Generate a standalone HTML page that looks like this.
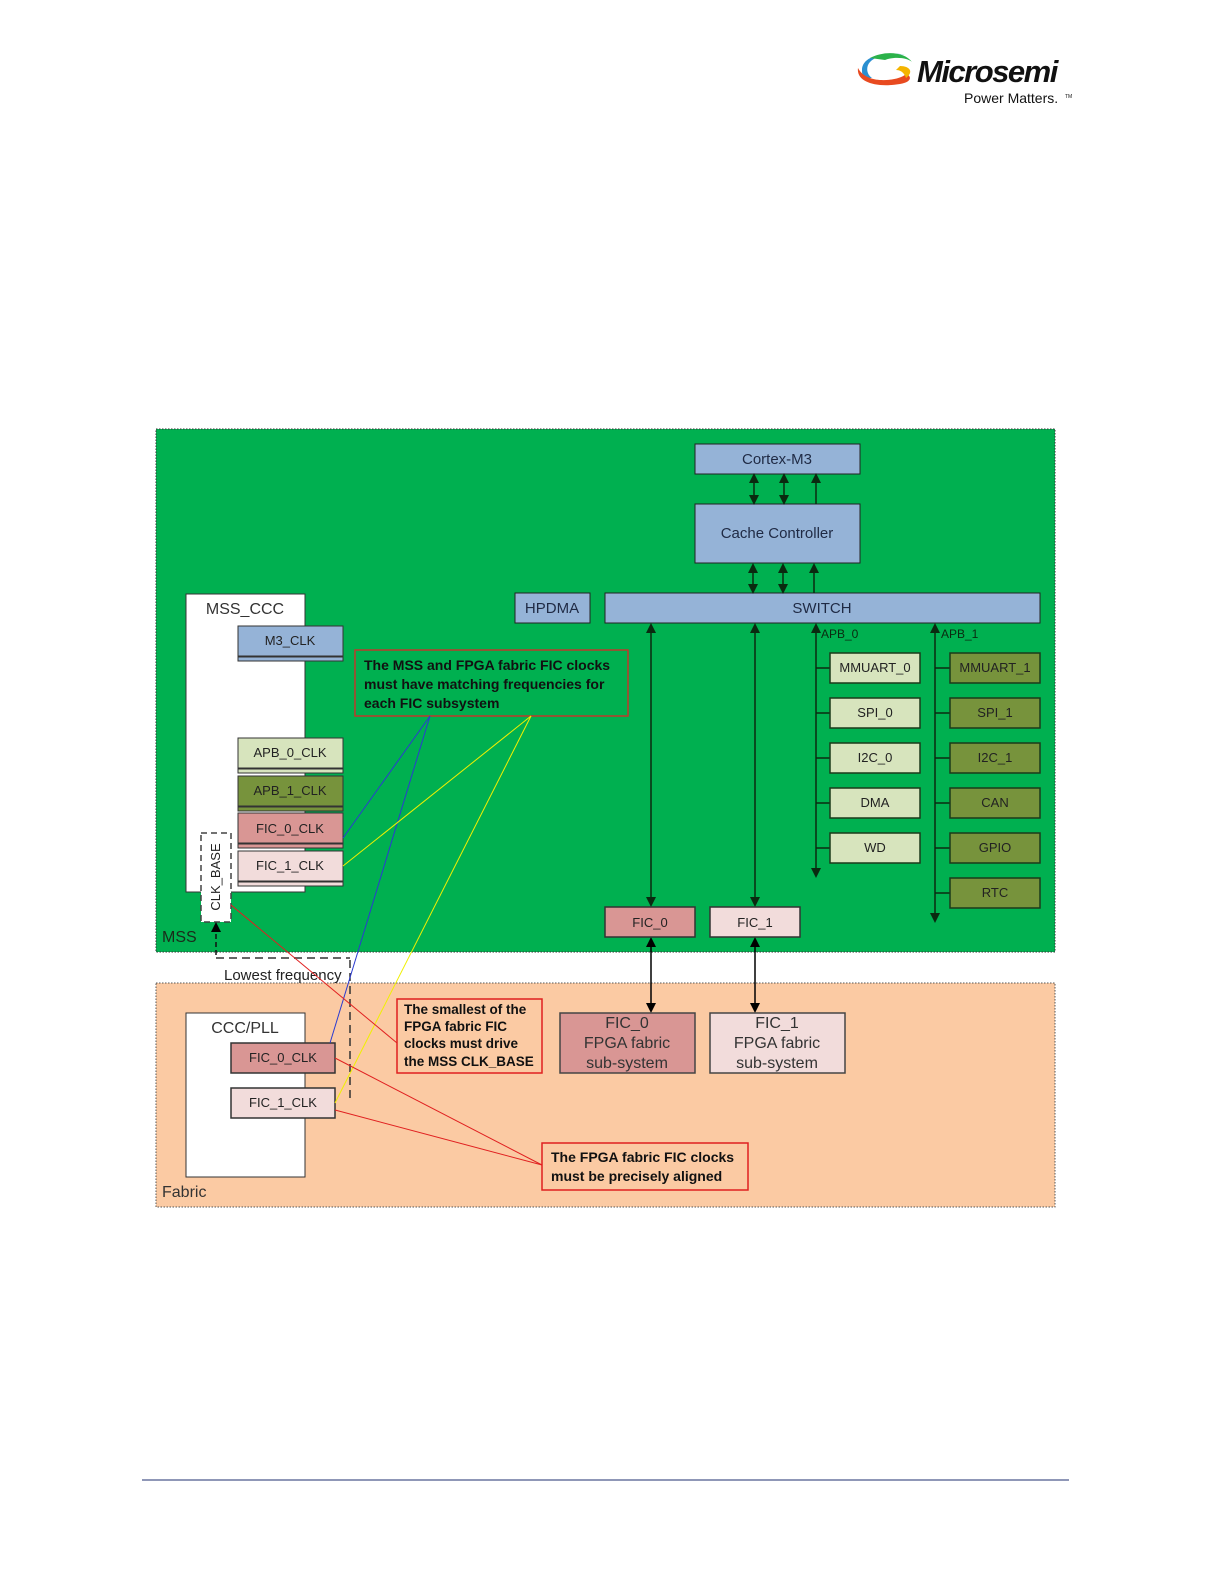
<!DOCTYPE html>
<html><head><meta charset="utf-8"><style>
html,body{margin:0;padding:0;background:#fff;width:1224px;height:1584px;overflow:hidden;}
svg{display:block;position:absolute;left:0;top:0;}
text{font-family:"Liberation Sans",sans-serif;}
</style></head><body>
<svg width="1224" height="1584" viewBox="0 0 1224 1584" xmlns="http://www.w3.org/2000/svg">
<defs>
<marker id="ah" markerWidth="10" markerHeight="10" refX="5" refY="5" orient="auto-start-reverse" markerUnits="userSpaceOnUse"><path d="M0,0 L10,5 L0,10 z" fill="#000"/></marker>
<marker id="ahg" markerWidth="10" markerHeight="10" refX="5" refY="5" orient="auto-start-reverse" markerUnits="userSpaceOnUse"><path d="M0,0 L10,5 L0,10 z" fill="#0a2a10"/></marker>
</defs>
<!-- logo -->
<g>
<path d="M862,70 C862,56 885,51 905,55 C895,52 878,54 870,62 C866,66 866,74 872,78 C862,78 862,74 862,70 z" fill="#2a8fd0"/>
<path d="M858,68 C856,82 876,88 900,84 C912,82 912,76 906,74 C900,80 880,82 870,78 C864,76 860,72 858,68 z" fill="#e84a20"/>
<path d="M870,58 C885,50 905,52 912,62 C908,58 895,56 885,60 z" fill="#2bb24a"/>
<path d="M900,66 C910,66 914,72 906,78 C904,72 900,70 896,70 z" fill="#f4b400"/>
<text x="917" y="82" font-size="31" font-weight="bold" font-style="italic" fill="#111" letter-spacing="-1.5">Microsemi</text>
<text x="964" y="103" font-size="14" fill="#111">Power Matters.</text>
<text x="1065" y="98" font-size="5" fill="#111">TM</text>
</g>

<rect x="156" y="429" width="899" height="523" fill="#00b050" stroke="#333" stroke-width="1" stroke-dasharray="1.5,1.5"/>
<rect x="156" y="983" width="899" height="224" fill="#fbcaa3" stroke="#555" stroke-width="1" stroke-dasharray="1.5,1.5"/>

<g font-size="15" fill="#1f2a44" text-anchor="middle">
<rect x="695" y="444" width="165" height="30" fill="#95b3d7" stroke="#222"/>
<text x="777" y="464">Cortex-M3</text>
<rect x="695" y="504" width="165" height="59" fill="#95b3d7" stroke="#222"/>
<text x="777" y="538">Cache Controller</text>
<rect x="605" y="593" width="435" height="30" fill="#95b3d7" stroke="#222"/>
<text x="822" y="613">SWITCH</text>
<rect x="515" y="593" width="75" height="30" fill="#95b3d7" stroke="#222"/>
<text x="552" y="613">HPDMA</text>
</g>

<g stroke="#0a2a10" stroke-width="1.5">
<line x1="754" y1="478" x2="754" y2="500" marker-start="url(#ahg)" marker-end="url(#ahg)"/>
<line x1="784" y1="478" x2="784" y2="500" marker-start="url(#ahg)" marker-end="url(#ahg)"/>
<line x1="816" y1="478" x2="816" y2="504" marker-start="url(#ahg)"/>
<line x1="753" y1="568" x2="753" y2="589" marker-start="url(#ahg)" marker-end="url(#ahg)"/>
<line x1="783" y1="568" x2="783" y2="589" marker-start="url(#ahg)" marker-end="url(#ahg)"/>
<line x1="814" y1="568" x2="814" y2="593" marker-start="url(#ahg)"/>
<line x1="651" y1="628" x2="651" y2="902" marker-start="url(#ahg)" marker-end="url(#ahg)"/>
<line x1="755" y1="628" x2="755" y2="902" marker-start="url(#ahg)" marker-end="url(#ahg)"/>
<line x1="816" y1="628" x2="816" y2="873" marker-start="url(#ahg)" marker-end="url(#ahg)"/>
<line x1="935" y1="628" x2="935" y2="918" marker-start="url(#ahg)" marker-end="url(#ahg)"/>
<line x1="651" y1="942" x2="651" y2="1008" marker-start="url(#ah)" marker-end="url(#ah)" stroke="#000"/>
<line x1="755" y1="942" x2="755" y2="1008" marker-start="url(#ah)" marker-end="url(#ah)" stroke="#000"/>
<line x1="816" y1="668" x2="830" y2="668"/><line x1="816" y1="713" x2="830" y2="713"/><line x1="816" y1="758" x2="830" y2="758"/><line x1="816" y1="803" x2="830" y2="803"/><line x1="816" y1="848" x2="830" y2="848"/>
<line x1="935" y1="668" x2="950" y2="668"/><line x1="935" y1="713" x2="950" y2="713"/><line x1="935" y1="758" x2="950" y2="758"/><line x1="935" y1="803" x2="950" y2="803"/><line x1="935" y1="848" x2="950" y2="848"/><line x1="935" y1="893" x2="950" y2="893"/>
</g>
<g font-size="12" fill="#0a2a10">
<text x="821" y="638">APB_0</text>
<text x="941" y="638">APB_1</text>
</g>

<g font-size="13" fill="#222" text-anchor="middle" stroke-width="1.5">
<rect x="830" y="653" width="90" height="30" fill="#d7e4bd" stroke="#1a3a1a"/><text x="875" y="672">MMUART_0</text>
<rect x="830" y="698" width="90" height="30" fill="#d7e4bd" stroke="#1a3a1a"/><text x="875" y="717">SPI_0</text>
<rect x="830" y="743" width="90" height="30" fill="#d7e4bd" stroke="#1a3a1a"/><text x="875" y="762">I2C_0</text>
<rect x="830" y="788" width="90" height="30" fill="#d7e4bd" stroke="#1a3a1a"/><text x="875" y="807">DMA</text>
<rect x="830" y="833" width="90" height="30" fill="#d7e4bd" stroke="#1a3a1a"/><text x="875" y="852">WD</text>
<rect x="950" y="653" width="90" height="30" fill="#77933c" stroke="#1a3a1a"/><text x="995" y="672">MMUART_1</text>
<rect x="950" y="698" width="90" height="30" fill="#77933c" stroke="#1a3a1a"/><text x="995" y="717">SPI_1</text>
<rect x="950" y="743" width="90" height="30" fill="#77933c" stroke="#1a3a1a"/><text x="995" y="762">I2C_1</text>
<rect x="950" y="788" width="90" height="30" fill="#77933c" stroke="#1a3a1a"/><text x="995" y="807">CAN</text>
<rect x="950" y="833" width="90" height="30" fill="#77933c" stroke="#1a3a1a"/><text x="995" y="852">GPIO</text>
<rect x="950" y="878" width="90" height="30" fill="#77933c" stroke="#1a3a1a"/><text x="995" y="897">RTC</text>
</g>

<g font-size="13" fill="#222" text-anchor="middle">
<rect x="605" y="907" width="90" height="30" fill="#d99694" stroke="#333" stroke-width="1.5"/><text x="650" y="927">FIC_0</text>
<rect x="710" y="907" width="90" height="30" fill="#f2dcdb" stroke="#333" stroke-width="1.5"/><text x="755" y="927">FIC_1</text>
</g>

<rect x="186" y="594" width="119" height="298" fill="#fff" stroke="#333"/>
<text x="245" y="614" font-size="16" fill="#333" text-anchor="middle">MSS_CCC</text>
<g font-size="13" fill="#222" text-anchor="middle">
<rect x="238" y="626" width="105" height="30" fill="#95b3d7" stroke="#333"/><rect x="238" y="657" width="105" height="4" fill="#95b3d7" stroke="#333"/><text x="290" y="645">M3_CLK</text>
<rect x="238" y="738" width="105" height="30" fill="#d7e4bd" stroke="#333"/><rect x="238" y="769" width="105" height="4" fill="#d7e4bd" stroke="#333"/><text x="290" y="757">APB_0_CLK</text>
<rect x="238" y="776" width="105" height="30" fill="#77933c" stroke="#333"/><rect x="238" y="807" width="105" height="4" fill="#77933c" stroke="#333"/><text x="290" y="795">APB_1_CLK</text>
<rect x="238" y="813" width="105" height="30" fill="#d99694" stroke="#333"/><rect x="238" y="844" width="105" height="4" fill="#d99694" stroke="#333"/><text x="290" y="833">FIC_0_CLK</text>
<rect x="238" y="851" width="105" height="30" fill="#f2dcdb" stroke="#333"/><rect x="238" y="882" width="105" height="4" fill="#f2dcdb" stroke="#333"/><text x="290" y="870">FIC_1_CLK</text>
</g>
<rect x="201" y="833" width="30" height="89" fill="#fff" stroke="#444" stroke-width="1.5" stroke-dasharray="6,4"/>
<text transform="translate(220,877) rotate(-90)" font-size="13" fill="#222" text-anchor="middle">CLK_BASE</text>
<text x="162" y="942" font-size="16" fill="#1a2a1a">MSS</text>
<line x1="216" y1="955" x2="216" y2="927" stroke="#111" stroke-width="1.5" stroke-dasharray="5,3" marker-end="url(#ah)"/>
<line x1="216" y1="958" x2="350" y2="958" stroke="#666" stroke-width="2" stroke-dasharray="8,5"/>
<line x1="350" y1="960" x2="350" y2="1103" stroke="#333" stroke-width="1.5" stroke-dasharray="8,5"/>
<text x="224" y="980" font-size="15" fill="#222">Lowest frequency</text>

<rect x="355" y="650" width="273" height="66" fill="none" stroke="#c0392b" stroke-width="1.5"/>
<g font-size="14" font-weight="bold" fill="#111">
<text x="364" y="670">The MSS and FPGA fabric FIC clocks</text>
<text x="364" y="689">must have matching frequencies for</text>
<text x="364" y="708">each FIC subsystem</text>
</g>

<rect x="186" y="1013" width="119" height="164" fill="#fff" stroke="#333"/>
<text x="245" y="1033" font-size="16" fill="#333" text-anchor="middle">CCC/PLL</text>
<g font-size="13" fill="#222" text-anchor="middle">
<rect x="231" y="1043" width="104" height="30" fill="#d99694" stroke="#333" stroke-width="1.5"/><text x="283" y="1062">FIC_0_CLK</text>
<rect x="231" y="1088" width="104" height="30" fill="#f2dcdb" stroke="#333" stroke-width="1.5"/><text x="283" y="1107">FIC_1_CLK</text>
</g>
<g font-size="16" fill="#333" text-anchor="middle">
<rect x="560" y="1013" width="135" height="60" fill="#d99694" stroke="#444" stroke-width="1.5"/>
<text x="627" y="1028">FIC_0</text><text x="627" y="1048">FPGA fabric</text><text x="627" y="1068">sub-system</text>
<rect x="710" y="1013" width="135" height="60" fill="#f2dcdb" stroke="#444" stroke-width="1.5"/>
<text x="777" y="1028">FIC_1</text><text x="777" y="1048">FPGA fabric</text><text x="777" y="1068">sub-system</text>
</g>
<rect x="397" y="999" width="145" height="74" fill="none" stroke="#e02020" stroke-width="1.5"/>
<g font-size="13.5" font-weight="bold" fill="#111">
<text x="404" y="1014">The smallest of the</text>
<text x="404" y="1031">FPGA fabric FIC</text>
<text x="404" y="1048">clocks must drive</text>
<text x="404" y="1066">the MSS CLK_BASE</text>
</g>
<rect x="542" y="1143" width="206" height="47" fill="none" stroke="#e02020" stroke-width="1.5"/>
<g font-size="14" font-weight="bold" fill="#111">
<text x="551" y="1162">The FPGA fabric FIC clocks</text>
<text x="551" y="1181">must be precisely aligned</text>
</g>
<text x="162" y="1197" font-size="16" fill="#333">Fabric</text>

<g fill="none" stroke-width="1">
<line x1="430" y1="716" x2="343" y2="838" stroke="#2b3bd0"/>
<line x1="430" y1="716" x2="330" y2="1043" stroke="#2b3bd0"/>
<line x1="531" y1="716" x2="343" y2="866" stroke="#f0f000"/>
<line x1="531" y1="716" x2="335" y2="1103" stroke="#f0f000"/>
<line x1="231" y1="905" x2="397" y2="1043" stroke="#e02020"/>
<line x1="335" y1="1058" x2="542" y2="1165" stroke="#e02020"/>
<line x1="335" y1="1110" x2="542" y2="1165" stroke="#e02020"/>
</g>

<line x1="142" y1="1480" x2="1069" y2="1480" stroke="#1f2f6f" stroke-width="1"/>
</svg>
</body></html>
